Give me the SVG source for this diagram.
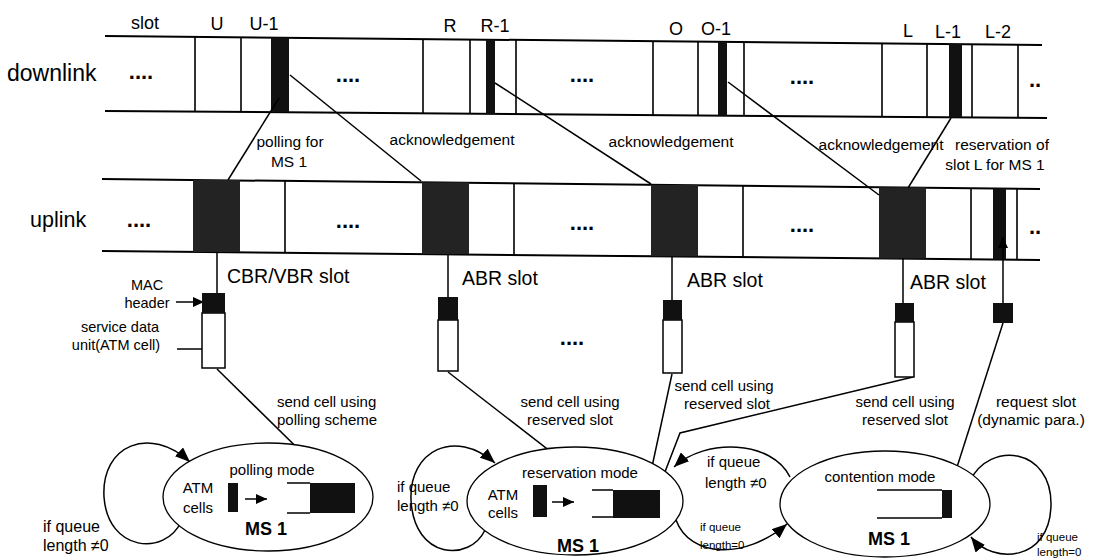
<svg xmlns="http://www.w3.org/2000/svg" width="1099" height="558" viewBox="0 0 1099 558">
<style>
text{font-family:"Liberation Sans",Arial,sans-serif;fill:#000}
.band{stroke:#000;stroke-width:2;fill:none}
.sep{stroke:#000;stroke-width:1.6}
.dk{fill:#111}
.du{fill:#232323}
.ln{stroke:#000;stroke-width:1.5;fill:none}
.box{fill:#fff;stroke:#000;stroke-width:1.5}
.ell{fill:#fff;stroke:#000;stroke-width:1.3}
.dots{font-size:22px;font-weight:bold}
.big{font-size:23px}
.lab{font-size:18px}
.slotl{font-size:19.5px}
.m{font-size:15.5px}
.s{font-size:14.5px}
.st{font-size:15px}
.ms{font-size:18px;font-weight:bold}
.tiny{font-size:11.5px}
.c{text-anchor:middle}
</style>
<defs>
<marker id="ab" markerUnits="userSpaceOnUse" markerWidth="16" markerHeight="12" refX="15" refY="6" orient="auto"><path d="M0,0 L15,6 L0,12 z" fill="#000"/></marker>
<marker id="as" markerUnits="userSpaceOnUse" markerWidth="12" markerHeight="10" refX="11" refY="5" orient="auto"><path d="M0,0 L11,5 L0,10 z" fill="#000"/></marker>
</defs>
<rect width="1099" height="558" fill="#fff"/>

<g id="header-labels">
<text class="lab c" x="145" y="29">slot</text>
<text class="lab c" x="217" y="30">U</text>
<text class="lab c" x="264" y="30">U-1</text>
<text class="lab c" x="450" y="32">R</text>
<text class="lab c" x="495" y="32">R-1</text>
<text class="lab c" x="676" y="35">O</text>
<text class="lab c" x="716" y="35">O-1</text>
<text class="lab c" x="908" y="37">L</text>
<text class="lab c" x="948" y="38">L-1</text>
<text class="lab c" x="998" y="38">L-2</text>
</g>

<g id="downlink">
<text class="big" x="7" y="81">downlink</text>
<path class="band" d="M105,36 L1042,45 M105,111 L1047,118"/>
<path class="sep" d="M195,37 V112 M241,37.3 V112 M423,39 V113.4 M470,39.5 V113.7 M516,40 V114 M653,41.3 V115 M698,41.7 V115.4 M744,42 V115.7 M882,43.5 V116.8 M927,44 V117.1 M972,44.3 V117.4 M1018,44.8 V117.8"/>
<rect class="dk" x="271" y="37.6" width="18" height="74.6"/>
<rect class="dk" x="486" y="39.7" width="9" height="74.1"/>
<rect class="dk" x="718" y="42" width="9" height="73.6"/>
<rect class="dk" x="949" y="44.1" width="13" height="73.3"/>
<text class="dots c" x="141" y="79">....</text>
<text class="dots c" x="348" y="82">....</text>
<text class="dots c" x="582" y="82">....</text>
<text class="dots c" x="802" y="84">....</text>
<text class="dots c" x="1035" y="87">..</text>
</g>

<g id="uplink">
<text class="big" x="30" y="227" style="font-size:21.5px">uplink</text>
<path class="band" d="M102,179 L1040,189 M102,251 L1040,260"/>
<path class="sep" d="M285,181 V252.8 M514,183.4 V255 M743,185.8 V257.2 M971,188.3 V259.3 M1017,188.8 V259.8"/>
<rect class="du" x="193" y="180" width="47" height="72"/>
<rect class="du" x="422" y="182.4" width="47" height="71.7"/>
<rect class="du" x="651" y="184.9" width="47" height="71.4"/>
<rect class="du" x="879" y="187.3" width="47" height="71.2"/>
<rect class="dk" x="993" y="188.5" width="13" height="71.1"/>
<text class="dots c" x="139" y="227">....</text>
<text class="dots c" x="348" y="228">....</text>
<text class="dots c" x="582" y="230">....</text>
<text class="dots c" x="802" y="232">....</text>
<text class="dots c" x="1035" y="234">..</text>
</g>

<g id="connectors">
<path class="ln" d="M279,98 L228,180"/>
<path class="ln" d="M290,75 L421,181"/>
<path class="ln" d="M495,83 L651,184"/>
<path class="ln" d="M728,82 L879,195"/>
<path class="ln" d="M951,118 L908,188"/>
<path class="ln" d="M217,252 V293 M448,254 V297 M672,256 V300 M903,258 V303"/>
<path class="ln" d="M1003,303 V237" marker-end="url(#as)"/>
<path class="ln" d="M217,369 L333,483"/>
<path class="ln" d="M448,372 L613,500"/>
<path class="ln" d="M672,374 L647,490"/>
<path class="ln" d="M913,377 L680,433 L658,490"/>
<path class="ln" d="M1003,323 L950,489"/>
<path class="ln" d="M176,302 H204" marker-end="url(#as)"/>
<path class="ln" d="M177,349 H214" marker-end="url(#as)"/>
<path class="ln" d="M181,522 C165,556 108,552 104,497 C101,445 150,425 190,462" marker-end="url(#ab)"/>
<path class="ln" d="M485,530 C470,562 414,560 411,500 C409,450 455,428 495,463" marker-end="url(#ab)"/>
<path class="ln" d="M970,481 C990,440 1052,448 1051,505 C1050,562 993,565 971,537" marker-end="url(#ab)"/>
<path class="ln" d="M790,477 C772,440 705,438 674,467" marker-end="url(#ab)"/>
<path class="ln" d="M676,520 C690,558 745,560 787,524" marker-end="url(#ab)"/>
</g>

<g id="link-labels">
<text class="m c" x="290" y="147">polling for</text>
<text class="m c" x="289" y="167">MS 1</text>
<text class="m c" x="452" y="145">acknowledgement</text>
<text class="m c" x="671" y="147">acknowledgement</text>
<text class="m c" x="881" y="150">acknowledgement</text>
<text class="m c" x="1002" y="150">reservation of</text>
<text class="m c" x="995" y="170">slot L for MS 1</text>
<text class="slotl" x="227" y="283">CBR/VBR slot</text>
<text class="slotl" x="462" y="285">ABR slot</text>
<text class="slotl" x="687" y="287">ABR slot</text>
<text class="slotl" x="910" y="289">ABR slot</text>
<text class="s c" x="147" y="290">MAC</text>
<text class="s c" x="147" y="308">header</text>
<text class="s c" x="120" y="332">service data</text>
<text class="s c" x="116" y="350">unit(ATM cell)</text>
<text class="dots c" x="572" y="345">....</text>
<text class="st" x="277" y="407">send cell using</text>
<text class="st" x="277" y="425">polling scheme</text>
<text class="st c" x="570" y="407">send cell using</text>
<text class="st c" x="570" y="425">reserved slot</text>
<text class="st c" x="724" y="391">send cell using</text>
<text class="st c" x="727" y="409">reserved slot</text>
<text class="st c" x="905" y="407">send cell using</text>
<text class="st c" x="905" y="425">reserved slot</text>
<text class="m c" x="1036" y="407">request slot</text>
<text class="m c" x="1031" y="425">(dynamic para.)</text>
<text class="st" x="43" y="532" style="font-size:16px">if queue</text>
<text class="st" x="43" y="551" style="font-size:16px">length ≠0</text>
<text class="st" x="397" y="492">if queue</text>
<text class="st" x="397" y="511">length ≠0</text>
<text class="st" x="707" y="467">if queue</text>
<text class="st" x="705" y="488">length ≠0</text>
<text class="tiny" x="700" y="531">if queue</text>
<text class="tiny" x="700" y="549">length=0</text>
<text class="tiny" x="1037" y="541">if queue</text>
<text class="tiny" x="1037" y="556">length=0</text>
</g>

<g id="cbr-packet">
<rect class="box" x="202" y="313" width="23" height="55"/>
<rect class="dk" x="202" y="293" width="23" height="20"/>
</g>
<g id="abr-packet-1">
<rect class="box" x="438" y="320" width="20" height="51"/>
<rect class="dk" x="438" y="297" width="20" height="23"/>
</g>
<g id="abr-packet-2">
<rect class="box" x="663" y="320" width="19" height="53"/>
<rect class="dk" x="663" y="300" width="19" height="20"/>
</g>
<g id="abr-packet-3">
<rect class="box" x="895" y="322" width="19" height="55"/>
<rect class="dk" x="895" y="303" width="19" height="19"/>
</g>
<g id="request-packet">
<rect class="dk" x="993" y="303" width="20" height="20"/>
</g>

<g id="polling-mode">
<ellipse class="ell" cx="268" cy="497" rx="105" ry="54"/>
<text class="st c" x="272" y="475">polling mode</text>
<text class="st c" x="198" y="493">ATM</text>
<text class="st c" x="198" y="513">cells</text>
<rect class="dk" x="228" y="483" width="10" height="29"/>
<path class="ln" d="M245,499 H267" marker-end="url(#as)"/>
<path class="ln" d="M287,483 H310 M287,513 H310"/>
<rect class="dk" x="310" y="483" width="45" height="30"/>
<text class="ms c" x="266" y="535">MS 1</text>
</g>
<g id="reservation-mode">
<ellipse class="ell" cx="575" cy="501" rx="108" ry="54"/>
<text class="st c" x="580" y="478">reservation mode</text>
<text class="st c" x="503" y="500">ATM</text>
<text class="st c" x="503" y="518">cells</text>
<rect class="dk" x="533" y="485" width="14" height="32"/>
<path class="ln" d="M552,502 H574" marker-end="url(#as)"/>
<path class="ln" d="M592,490 H613 M592,517 H613"/>
<rect class="dk" x="613" y="490" width="47" height="28"/>
<text class="ms c" x="578" y="552">MS 1</text>
</g>
<g id="contention-mode">
<ellipse class="ell" cx="885" cy="504" rx="105" ry="53"/>
<text class="st c" x="880" y="482">contention mode</text>
<path class="ln" d="M877,490 H942 M877,518 H942"/>
<rect class="dk" x="942" y="490" width="10" height="28"/>
<text class="ms c" x="889" y="545">MS 1</text>
</g>
</svg>
